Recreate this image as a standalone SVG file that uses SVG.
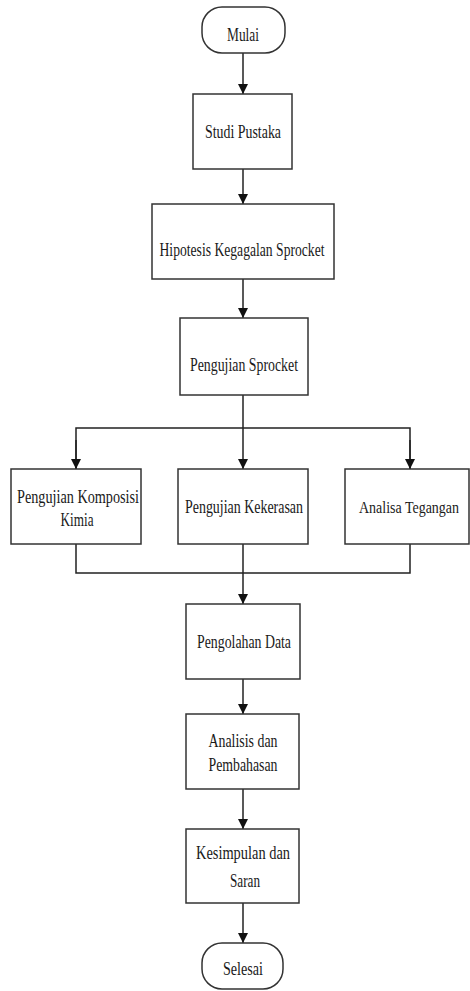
<svg xmlns="http://www.w3.org/2000/svg" width="470" height="991" viewBox="0 0 470 991">
<style>
.box{fill:#fff;stroke:#333;stroke-width:1.5}
.t{font-family:"Liberation Serif","Times New Roman",serif;font-size:19px;fill:#1a1a1a;text-anchor:middle}
.c{fill:none;stroke:#222;stroke-width:1.5}
</style>
<defs>
<marker id="ah" markerWidth="10" markerHeight="12" refX="10" refY="5" orient="auto" markerUnits="userSpaceOnUse" viewBox="0 0 10 10">
<path d="M0,0 L10,5 L0,10 Z" fill="#111"/>
</marker>
</defs>
<rect width="470" height="991" fill="#fff"/>
<g id="connectors">
<line class="c" x1="243" y1="53" x2="243" y2="94" marker-end="url(#ah)"/>
<line class="c" x1="243" y1="169" x2="243" y2="204" marker-end="url(#ah)"/>
<line class="c" x1="243" y1="279" x2="243" y2="318" marker-end="url(#ah)"/>
<line class="c" x1="243" y1="395" x2="243" y2="469" marker-end="url(#ah)"/>
<polyline class="c" points="76,469 76,428 410,428 410,469"/>
<line class="c" x1="76" y1="440" x2="76" y2="469" marker-end="url(#ah)"/>
<line class="c" x1="410" y1="440" x2="410" y2="469" marker-end="url(#ah)"/>
<polyline class="c" points="76,544 76,573 410,573 410,544"/>
<line class="c" x1="243" y1="544" x2="243" y2="604" marker-end="url(#ah)"/>
<line class="c" x1="243" y1="679" x2="243" y2="714" marker-end="url(#ah)"/>
<line class="c" x1="243" y1="789" x2="243" y2="829" marker-end="url(#ah)"/>
<line class="c" x1="243" y1="903" x2="243" y2="943" marker-end="url(#ah)"/>
</g>
<g id="mulai">
<rect class="box" x="202" y="7" width="83" height="46" rx="20"/>
<text class="t" x="243" y="41" textLength="32" lengthAdjust="spacingAndGlyphs">Mulai</text>
</g>
<g id="studi">
<rect class="box" x="193" y="94" width="99" height="75"/>
<text class="t" x="243" y="138" textLength="76" lengthAdjust="spacingAndGlyphs">Studi Pustaka</text>
</g>
<g id="hipotesis">
<rect class="box" x="152" y="204" width="182" height="75"/>
<text class="t" x="242" y="256" textLength="165" lengthAdjust="spacingAndGlyphs">Hipotesis Kegagalan Sprocket</text>
</g>
<g id="pengujian">
<rect class="box" x="180" y="318" width="128" height="77"/>
<text class="t" x="244" y="371" textLength="108" lengthAdjust="spacingAndGlyphs">Pengujian Sprocket</text>
</g>
<g id="komposisi">
<rect class="box" x="11" y="469" width="130" height="75"/>
<text class="t" x="78" y="503" textLength="122" lengthAdjust="spacingAndGlyphs">Pengujian Komposisi</text>
<text class="t" x="77" y="526" textLength="33" lengthAdjust="spacingAndGlyphs">Kimia</text>
</g>
<g id="kekerasan">
<rect class="box" x="178" y="469" width="130" height="75"/>
<text class="t" x="244" y="513" textLength="118" lengthAdjust="spacingAndGlyphs">Pengujian Kekerasan</text>
</g>
<g id="tegangan">
<rect class="box" x="345" y="469" width="124" height="75"/>
<text class="t" x="409" y="513" style="font-size:16px" textLength="100" lengthAdjust="spacingAndGlyphs">Analisa Tegangan</text>
</g>
<g id="pengolahan">
<rect class="box" x="186" y="604" width="114" height="75"/>
<text class="t" x="244" y="648" textLength="94" lengthAdjust="spacingAndGlyphs">Pengolahan Data</text>
</g>
<g id="analisis">
<rect class="box" x="186" y="714" width="113" height="75"/>
<text class="t" x="243" y="747" textLength="69" lengthAdjust="spacingAndGlyphs">Analisis dan</text>
<text class="t" x="243" y="771" textLength="69" lengthAdjust="spacingAndGlyphs">Pembahasan</text>
</g>
<g id="kesimpulan">
<rect class="box" x="186" y="829" width="113" height="74"/>
<text class="t" x="243" y="859" textLength="94" lengthAdjust="spacingAndGlyphs">Kesimpulan dan</text>
<text class="t" x="245" y="887" textLength="30" lengthAdjust="spacingAndGlyphs">Saran</text>
</g>
<g id="selesai">
<rect class="box" x="202" y="943" width="81" height="46" rx="20"/>
<text class="t" x="243" y="975" textLength="40" lengthAdjust="spacingAndGlyphs">Selesai</text>
</g>
</svg>
